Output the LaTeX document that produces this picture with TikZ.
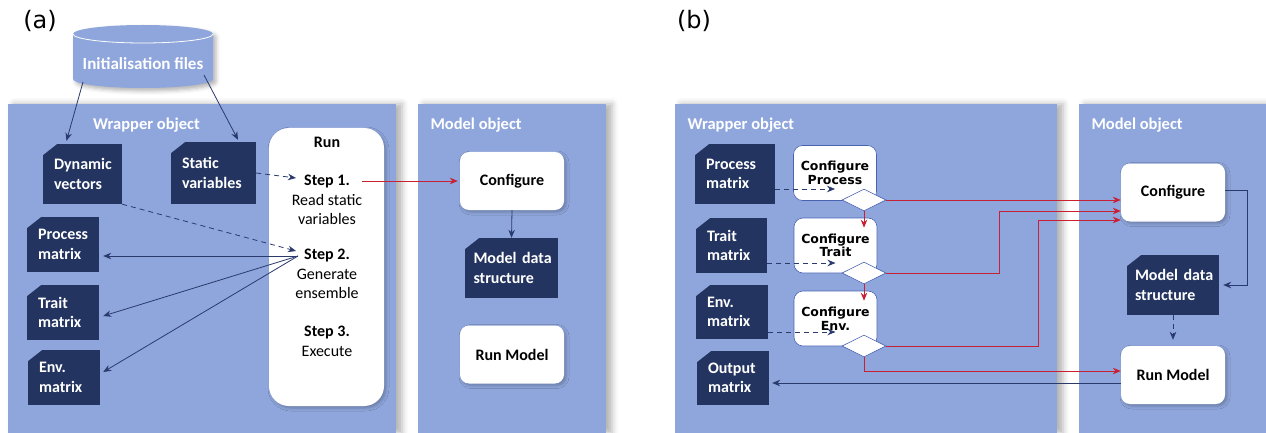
\documentclass[tikz,border=0pt]{standalone}
\usepackage{fontspec}
\setmainfont{Carlito}
\newfontfamily\dejavu{DejaVu Sans}
\usetikzlibrary{arrows.meta, shapes.geometric, shadows.blur}

\definecolor{panelblue}{RGB}{143,166,220}
\definecolor{darkbox}{RGB}{35,52,96}
\definecolor{lineblue}{RGB}{42,58,108}
\definecolor{flowred}{RGB}{200,32,52}
\definecolor{edgeblue}{RGB}{72,98,178}

\newcommand\dgbold{\fontsize{16}{19.5}\selectfont\bfseries}
\newcommand\dgtext{\fontsize{16}{19.5}\selectfont}

\tikzset{
  panel/.style={fill=panelblue, blur shadow={shadow xshift=6pt, shadow yshift=0pt, shadow blur radius=6pt, shadow opacity=30}},
  paneltitle/.style={text=white, font=\fontsize{16.5}{20}\selectfont\bfseries},
  databox/.style 2 args={fill=darkbox, text=white, align=left, inner xsep=11pt, text width=#1, minimum height=#2, font=\dgbold,
    path picture={\fill[panelblue] (path picture bounding box.north west) -- ++(14pt,0pt) -- ++(-14pt,-11pt) -- cycle;}},
  whitebox/.style={fill=white, rounded corners=9pt, minimum width=104pt, minimum height=58pt, font=\dgbold,
    blur shadow={shadow xshift=2pt, shadow yshift=-2pt, shadow blur radius=3pt, shadow opacity=25}},
  cfgbox/.style={fill=white, draw=edgeblue, line width=0.6pt, rounded corners=9pt, minimum width=83pt, minimum height=55pt,
    align=center, font=\dejavu\fontsize{12.5}{13.5}\selectfont\bfseries},
  gate/.style={diamond, fill=white, draw=edgeblue, line width=0.6pt, minimum width=44pt, minimum height=22pt, inner sep=0pt},
  link/.style={draw=lineblue, line width=0.8pt, -{Stealth[length=8pt,width=6.5pt]}},
  dlink/.style={link, dash pattern=on 5pt off 4pt},
  flow/.style={draw=flowred, line width=0.8pt, -{Stealth[length=8pt,width=6.5pt]}},
}

\begin{document}
\begin{tikzpicture}[x=1pt, y=-1pt]
  \useasboundingbox (0,0) rectangle (1266,433);

  % panels
  \fill[panel] (8,104) rectangle (396,433);
  \fill[panel] (418,104) rectangle (606,433);
  \fill[panel] (675,104) rectangle (1057,433);
  \fill[panel] (1079,104) rectangle (1266,433);

  \node[font=\dejavu\fontsize{24}{28}\selectfont] (lbla) at (40,21) {(a)};
  \node[font=\dejavu\fontsize{24}{28}\selectfont] (lblb) at (694,21) {(b)};

  \node[paneltitle] (wrapA) at (146.5,125) {Wrapper object};
  \node[paneltitle, anchor=west] (modA) at (427,125) {Model object};
  \node[paneltitle, anchor=west] (wrapB) at (684,125) {Wrapper object};
  \node[paneltitle, anchor=west] (modB) at (1088,125) {Model object};

  % initialisation files
  \fill[panelblue, blur shadow={shadow xshift=3pt, shadow yshift=-3pt, shadow blur radius=4pt, shadow opacity=30}]
    (73,34) -- (73,79) arc[start angle=180, end angle=360, x radius=70pt, y radius=9pt]
    -- (213,34) arc[start angle=0, end angle=180, x radius=70pt, y radius=9pt] -- cycle;
  \draw[white, line width=0.8pt] (73,34) arc[start angle=180, end angle=360, x radius=70pt, y radius=9pt];
  \node[paneltitle, font=\fontsize{17}{20}\selectfont\bfseries] (cyl) at (143,64) {Initialisation files};
  \coordinate (cylL) at (83,82);
  \coordinate (cylR) at (204,75);

  % (a) wrapper
  \node[databox={57pt}{60pt}] (dyn) at (82.5,174) {Dynamic\\vectors};
  \node[databox={63pt}{62pt}] (stat) at (213.5,173) {Static\\variables};
  \node[databox={50pt}{55pt}] (procA) at (63,244.5) {Process\\matrix};
  \node[databox={50pt}{55pt}] (traitA) at (63,312.5) {Trait\\matrix};
  \node[databox={50pt}{55pt}] (envA) at (64,377.5) {Env.\\matrix};

  \node[whitebox, rounded corners=20pt, minimum width=115pt, minimum height=278pt] (run) at (326.5,267) {};
  \node[font=\dgbold] (runlbl) at (327,142) {Run};
  \node[font=\dgtext, align=center] (s1) at (327,200) {\textbf{Step 1.}\\Read static\\variables};
  \node[font=\dgtext, align=center] (s2) at (327,274) {\textbf{Step 2.}\\Generate\\ensemble};
  \node[font=\dgtext, align=center] (s3) at (327,341.5) {\textbf{Step 3.}\\Execute};
  \coordinate (s1in) at (296,178);
  \coordinate (s1out) at (362,181);
  \coordinate (s2in) at (296,251);
  \coordinate (s2out) at (298,256);

  % (a) model
  \node[whitebox] (confA) at (512,181) {Configure};
  \node[databox={76pt}{60pt}, inner xsep=8.5pt] (mdsA) at (511.5,268) {Model~data\\structure};
  \node[whitebox] (runmA) at (512,354.5) {Run Model};

  \draw[link] (cylL) -- ([xshift=-16pt,yshift=3pt]dyn.north);
  \draw[link] (cylR) -- ([xshift=24.5pt,yshift=2pt]stat.north);
  \draw[dlink] (stat.east) -- (s1in);
  \draw[dlink] (dyn.south east) -- (s2in);
  \draw[link] (s2out) -- ([xshift=4pt,yshift=-11.5pt]procA.east);
  \draw[link] (s2out) -- ([xshift=4pt,yshift=-3.5pt]traitA.east);
  \draw[link] (s2out) -- ([xshift=3pt,yshift=5.5pt]envA.east);
  \draw[flow] (s1out) -- ([xshift=-2pt]confA.west);
  \draw[link] (confA.south) -- (mdsA.north);

  % (b) wrapper
  \node[databox={58pt}{60pt}] (procB) at (735,174) {Process\\matrix};
  \node[databox={49pt}{55pt}] (traitB) at (731.5,245.5) {Trait\\matrix};
  \node[databox={50pt}{54pt}] (envB) at (732,312) {Env.\\matrix};
  \node[databox={50pt}{54pt}] (outB) at (733,378) {Output\\matrix};

  \node[cfgbox] (cfgP) at (835,173) {Configure\\Process};
  \node[cfgbox] (cfgT) at (835.5,245.5) {Configure\\Trait};
  \node[cfgbox] (cfgE) at (835.5,318.5) {Configure\\Env.};
  \node[gate] (dP) at (864,200) {};
  \node[gate] (dT) at (864,273) {};
  \node[gate] (dE) at (864,346) {};

  % (b) model
  \node[whitebox] (cfgB) at (1173,192.5) {Configure};
  \node[databox={76pt}{60pt}, inner xsep=8pt] (mdsB) at (1173,285) {Model~data\\structure};
  \node[whitebox] (runmB) at (1173,375) {Run Model};

  \coordinate (inP) at ([yshift=-16pt]cfgP.center);
  \coordinate (inT) at ([yshift=-17.5pt]cfgT.center);
  \coordinate (inE) at ([yshift=-13.5pt]cfgE.center);
  \coordinate (tT) at ([yshift=-10pt]cfgT.north);
  \coordinate (tE) at ([yshift=-10pt]cfgE.north);
  \coordinate (jT) at (999,211);
  \coordinate (jE) at (1038,220);
  \coordinate (jR) at ([yshift=4pt]runmB.west);
  \coordinate (jO) at ([yshift=-8pt]runmB.west);

  \draw[dlink] (procB.east |- inP) -- (inP);
  \draw[dlink] (traitB.east |- inT) -- (inT);
  \draw[dlink] (envB.east |- inE) -- (inE);
  \draw[flow] (dP.south) -- (dP.south |- tT);
  \draw[flow] (dT.south) -- (dT.south |- tE);
  \draw[flow] (dP.east) -- (dP.east -| cfgB.west);
  \draw[flow] (dT.east) -| (jT) -- (jT -| cfgB.west);
  \draw[flow] (dE.east) -| (jE) -- (jE -| cfgB.west);
  \draw[flow] (dE.south) |- (jR);
  \draw[link] (jO) -- ([xshift=3pt,yshift=-5pt]outB.east);
  \draw[link] ([yshift=2.5pt]cfgB.east) -- ++(22,0) |- ([xshift=4pt]mdsB.east);
  \draw[dlink] (mdsB.south) -- ([yshift=6pt]runmB.north);
\end{tikzpicture}
\end{document}
